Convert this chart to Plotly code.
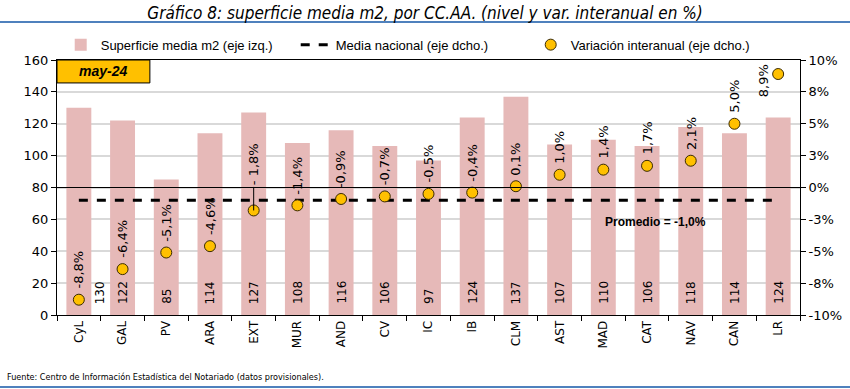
import plotly.graph_objects as go

categories = ["CyL", "GAL", "PV", "ARA", "EXT", "MUR", "AND", "CV", "IC", "IB",
              "CLM", "AST", "MAD", "CAT", "NAV", "CAN", "LR"]
superficie = [130, 122, 85, 114, 127, 108, 116, 106, 97, 124, 137, 107, 110, 106, 118, 114, 124]
variacion = [-8.8, -6.4, -5.1, -4.6, -1.8, -1.4, -0.9, -0.7, -0.5, -0.4, 0.1, 1.0, 1.4, 1.7, 2.1, 5.0, 8.9]
media_nacional = -1.0
right_tickvals = [-10, -7.5, -5, -2.5, 0, 2.5, 5, 7.5, 10]
right_ticktext = ["-10%", "-8%", "-5%", "-3%", "0%", "3%", "5%", "8%", "10%"]
left_tickvals = [0, 20, 40, 60, 80, 100, 120, 140, 160]

TICKFONT = dict(family="DejaVu Sans", size=13, color="#000")
NARROW = "Liberation Sans Narrow, DejaVu Sans Condensed, Liberation Sans, Arial"

def fmt_pct(v):
    return ("%.1f%%" % v).replace(".", ",")

fig = go.Figure()
fig.add_trace(go.Bar(
    x=categories, y=superficie, name="Superficie media m2 (eje izq.)",
    marker=dict(color="#E6B9B8", line=dict(width=0)), yaxis="y",
))
fig.add_trace(go.Scatter(
    x=categories, y=[media_nacional] * len(categories), mode="lines",
    name="Media nacional (eje dcho.)", yaxis="y2",
    line=dict(color="#000", width=3, dash="dash"),
))
fig.add_trace(go.Scatter(
    x=categories, y=variacion, mode="markers", name="Variación interanual (eje dcho.)",
    yaxis="y2",
    marker=dict(color="#FFC000", size=11, line=dict(color="#3a2a00", width=1)),
))

LABFONT = dict(family="DejaVu Sans", size=13, color="#000")
ann = []
# bar value labels
for i, (c, v) in enumerate(zip(categories, superficie)):
    ann.append(dict(x=c, y=0, xref="x", yref="y", text=str(v), textangle=-90,
                    showarrow=False, yanchor="bottom", yshift=9,
                    xshift=21 if i == 0 else 0,
                    font=dict(family="DejaVu Sans", size=12, color="#000")))
# variation labels
n = len(categories)
for i, (c, v) in enumerate(zip(categories, variacion)):
    if c == "EXT":
        ann.append(dict(x=c, y=v, xref="x", yref="y2", text=fmt_pct(v).replace("-", "- "),
                        textangle=-90, showarrow=True, arrowhead=0, arrowwidth=1,
                        arrowcolor="#000", ax=0, ay=-46, font=LABFONT))
    elif i == n - 1:
        ann.append(dict(x=c, y=v, xref="x", yref="y2", text=fmt_pct(v), textangle=-90,
                        showarrow=False, yanchor="middle", xshift=-15, yshift=-7,
                        font=LABFONT))
    else:
        ann.append(dict(x=c, y=v, xref="x", yref="y2", text=fmt_pct(v), textangle=-90,
                        showarrow=False, yanchor="bottom", yshift=9, font=LABFONT))
# promedio label
ann.append(dict(x=0.876, y=-2.7, xref="paper", yref="y2",
                text="<b>Promedio = " + fmt_pct(media_nacional) + "</b>", showarrow=False,
                font=dict(family="Liberation Sans", size=12, color="#000")))
# may-24 box label
ann.append(dict(x=0.0625, y=0.955, xref="paper", yref="paper", text="<b><i>may-24</i></b>",
                xanchor="center", yanchor="middle",
                showarrow=False, font=dict(family="Liberation Sans", size=14, color="#000")))
# footnote
ann.append(dict(x=-0.07, y=-0.243, xref="paper", yref="paper", xanchor="left",
                yanchor="middle", showarrow=False,
                text="Fuente: Centro de Información Estadística del Notariado (datos provisionales).",
                font=dict(family=NARROW, size=9, color="#000")))

shapes = [
    dict(type="rect", xref="paper", yref="paper", x0=0, x1=0.125, y0=0.91, y1=1,
         fillcolor="#FFC000", line=dict(color="#000", width=1), layer="below"),
    dict(type="line", xref="paper", yref="y2", x0=0, x1=1, y0=0, y1=0,
         line=dict(color="#000", width=1), layer="above"),
    dict(type="line", xref="paper", yref="paper", x0=-0.08, x1=1.07, y0=1.149, y1=1.149,
         line=dict(color="#4F81BD", width=2)),
    dict(type="line", xref="paper", yref="paper", x0=-0.08, x1=1.07, y0=-0.282, y1=-0.282,
         line=dict(color="#4F81BD", width=2)),
]

fig.update_layout(
    width=850, height=389,
    margin=dict(l=57, r=50, t=60, b=74, autoexpand=False),
    paper_bgcolor="#fff", plot_bgcolor="#fff",
    title=dict(text="<i>Gráfico 8: superficie media m2, por CC.AA. (nivel y var. interanual en %)</i>",
               x=0.5, xanchor="center", y=1 - 13 / 389, yanchor="middle",
               font=dict(family=NARROW, size=17, color="#000")),
    bargap=0.43,
    showlegend=True,
    legend=dict(orientation="h", x=0.005, xanchor="left", y=1.06, yanchor="middle",
                font=dict(family="Liberation Sans", size=13, color="#000"),
                bgcolor="rgba(0,0,0,0)", entrywidth=190, entrywidthmode="pixels"),
    xaxis=dict(type="category", range=[-0.5, len(categories) - 0.5], tickangle=-90,
               tickson="boundaries", ticks="outside",
               ticklen=5, tickcolor="#000", showline=True, linecolor="#000", mirror=True,
               linewidth=1, showgrid=False, tickfont=dict(family="DejaVu Sans", size=12, color="#000")),
    yaxis=dict(range=[0, 160], tickvals=left_tickvals, ticks="outside", ticklen=5,
               tickcolor="#000", showline=True, linecolor="#000", linewidth=1,
               gridcolor="#D9D9D9", gridwidth=2, zeroline=False, tickfont=TICKFONT),
    yaxis2=dict(range=[-10, 10], overlaying="y", side="right", tickvals=right_tickvals,
                ticktext=right_ticktext, ticks="outside", ticklen=5, tickcolor="#000",
                showline=True, linecolor="#000", linewidth=1, showgrid=False,
                zeroline=False, tickfont=TICKFONT),
    annotations=ann,
    shapes=shapes,
)

fig.write_html("out.html", config={"displayModeBar": False},
               post_script="document.body.style.margin='0';")
